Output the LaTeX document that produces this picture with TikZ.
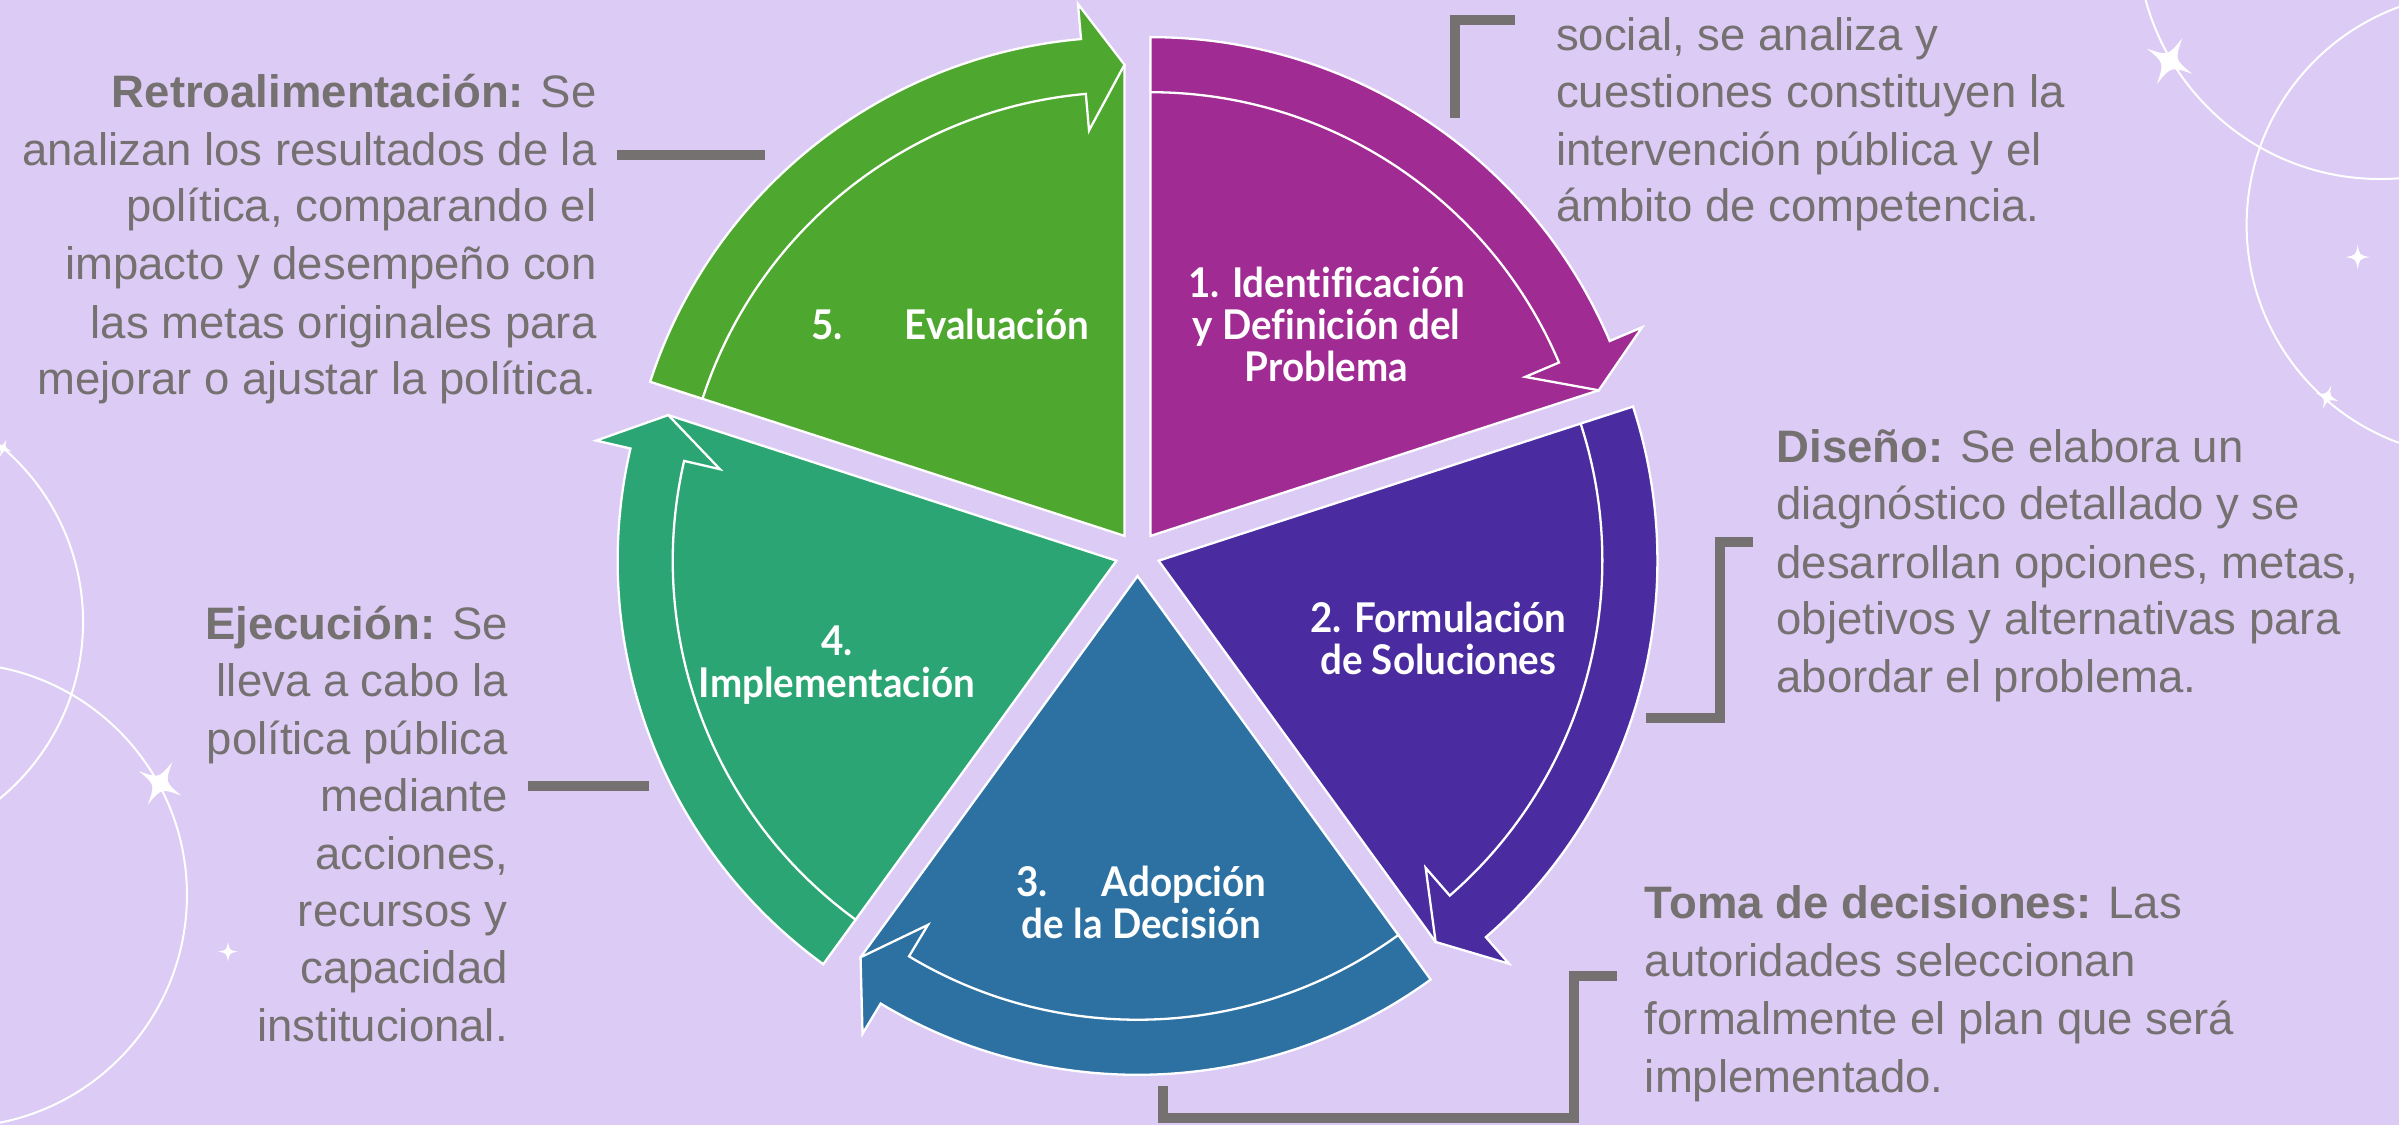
\documentclass[tikz,border=0pt]{standalone}
\usepackage{fontspec}
\newfontfamily\bodyfont{Liberation Sans}
\newfontfamily\labfont[FakeStretch=0.94,Ligatures=NoCommon]{Lato}
\definecolor{bg}{RGB}{219,203,245}
\definecolor{txtgray}{RGB}{118,113,113}
\definecolor{cmag}{RGB}{160,43,147}
\definecolor{cpur}{RGB}{74,43,160}
\definecolor{cblu}{RGB}{44,113,162}
\definecolor{ctea}{RGB}{44,165,116}
\definecolor{cgre}{RGB}{78,167,46}
\tikzset{
 body/.style={font=\bodyfont\fontsize{45.5pt}{57.5pt}\selectfont, text=txtgray, inner sep=0pt},
 bodyR/.style={body, anchor=base east},
 bodyL/.style={body, anchor=base west},
 lab/.style={font=\labfont\bfseries\fontsize{41pt}{42pt}\selectfont, text=white, align=center, inner sep=0pt},
 bar/.style={draw=txtgray, line width=10pt, line join=miter, line cap=butt},
 deco/.style={draw=white, line width=2pt},
 segline/.style={draw=white, line width=2.3pt, line join=miter},
}
\newcommand{\cycseg}[2]{%
 \pgfmathsetmacro{\sa}{#2}%
 \pgfmathsetmacro{\ea}{#2-72}%
 \pgfmathsetmacro{\ma}{#2-36}%
 \pgfmathsetmacro{\ba}{#2-67}%
 \begin{scope}[shift={(\ma:14.5)}]
   \path[fill=#1, segline] (0,0) -- (\sa:308) arc[start angle=\sa, end angle=\ea, radius=308] -- cycle;
   \path[fill=#1, segline] (\sa:326) arc[start angle=\sa, end angle=\ba, radius=326] -- (\ba:349) -- (\ea:308) -- (\ba:266) -- (\ba:290) arc[start angle=\ba, end angle=\sa, radius=290] -- cycle;
 \end{scope}}
\newcommand{\sparkle}[4]{%
 \fill[white, shift={(#1,#2)}, rotate=#4] (#3,0) .. controls ({0.15*#3},{0.15*#3}) .. (0,#3) .. controls ({-0.15*#3},{0.15*#3}) .. (-#3,0) .. controls ({-0.15*#3},{-0.15*#3}) .. (0,-#3) .. controls ({0.15*#3},{-0.15*#3}) .. (#3,0) -- cycle;}
\begin{document}
\begin{tikzpicture}[x=1.53pt,y=-1.53pt]
\fill[bg] (0,0) rectangle (1568,735);
\useasboundingbox (0,0) rectangle (1568,735);
\begin{scope}
 \clip (0,0) rectangle (1568,735);
 \draw[deco] (1555.6,-41.8) circle[radius=158.8];
 \draw[deco] (1620,147) circle[radius=151.6];
 \draw[deco] (-95.4,406.5) circle[radius=149.7];
 \draw[deco] (-29.4,585) circle[radius=151.6];
 \sparkle{1418}{40}{17}{-29}
 \sparkle{1541}{168}{8}{0}
 \sparkle{1521}{259.5}{8}{-20}
 \sparkle{2}{293}{6}{-20}
 \sparkle{104.6}{512}{16}{-30}
 \sparkle{149}{622}{6.5}{0}
\end{scope}
% wheel
\begin{scope}[shift={(743.5,362)}]
 \begin{scope}[y=1.53pt]
  \cycseg{cmag}{90}
  \cycseg{cpur}{18}
  \cycseg{cblu}{-54}
  \cycseg{ctea}{-126}
  \cycseg{cgre}{162}
 \end{scope}
\end{scope}
\node[lab] (l1) at (867,212) {1. Identificación\\y Definición del\\Problema};
\node[lab] (l5) at (621,212) {5.\hspace{62pt}Evaluación};
\node[lab] (l2) at (940,417) {2. Formulación\\de Soluciones};
\node[lab] (l3) at (746,590) {3.\hspace{54pt}Adopción\\de la Decisión};
\node[lab] (l4) at (547,435) {4.\\Implementación};
% texts
\node[bodyR] (r1) at (390,70) {\textbf{Retroalimentación:} Se};
\node[bodyR] (r2) at (390,108) {analizan los resultados de la};
\node[bodyR] (r3) at (390,145) {política, comparando el};
\node[bodyR] (r4) at (390,183) {impacto y desempeño con};
\node[bodyR] (r5) at (390,221) {las metas originales para};
\node[bodyR] (r6) at (390,258) {mejorar o ajustar la política.};
\node[bodyL] (t1) at (1017,33) {social, se analiza y};
\node[bodyL] (t2) at (1017,70) {cuestiones constituyen la};
\node[bodyL] (t3) at (1017,108) {intervención pública y el};
\node[bodyL] (t4) at (1017,145) {ámbito de competencia.};
\node[bodyL] (d1) at (1161,302.4) {\textbf{Diseño:} Se elabora un};
\node[bodyL] (d2) at (1161,339.7) {diagnóstico detallado y se};
\node[bodyL] (d3) at (1161,377.8) {desarrollan opciones, metas,};
\node[bodyL] (d4) at (1161,414.8) {objetivos y alternativas para};
\node[bodyL] (d5) at (1161,452.6) {abordar el problema.};
\node[bodyL] (m1) at (1075,600.3) {\textbf{Toma de decisiones:} Las};
\node[bodyL] (m2) at (1075,638.4) {autoridades seleccionan};
\node[bodyL] (m3) at (1075,676) {formalmente el plan que será};
\node[bodyL] (m4) at (1075,713.8) {implementado.};
\node[bodyR] (e1) at (332,418) {\textbf{Ejecución:} Se};
\node[bodyR] (e2) at (332,455.5) {lleva a cabo la};
\node[bodyR] (e3) at (332,493) {política pública};
\node[bodyR] (e4) at (332,530.5) {mediante};
\node[bodyR] (e5) at (332,568) {acciones,};
\node[bodyR] (e6) at (332,605.5) {recursos y};
\node[bodyR] (e7) at (332,643) {capacidad};
\node[bodyR] (e8) at (332,680.5) {institucional.};
% connectors
\coordinate (ra) at (403,101); \coordinate (rb) at (500,101);
\draw[bar] (ra) -- (rb);
\coordinate (ta) at (990,13); \coordinate (tb) at (951,13); \coordinate (tc) at (951,77);
\draw[bar] (ta) -- (tb) -- (tc);
\coordinate (da) at (1146,354); \coordinate (db) at (1124,354); \coordinate (dc) at (1124,469); \coordinate (dd) at (1076,469);
\draw[bar] (da) -- (db) -- (dc) -- (dd);
\coordinate (ma) at (1057,638); \coordinate (mb) at (1029,638); \coordinate (mc) at (1029,731); \coordinate (md) at (760,731); \coordinate (me) at (760,710);
\draw[bar] (ma) -- (mb) -- (mc) -- (md) -- (me);
\coordinate (ea) at (345,514); \coordinate (eb) at (424,514);
\draw[bar] (ea) -- (eb);
\end{tikzpicture}
\end{document}
